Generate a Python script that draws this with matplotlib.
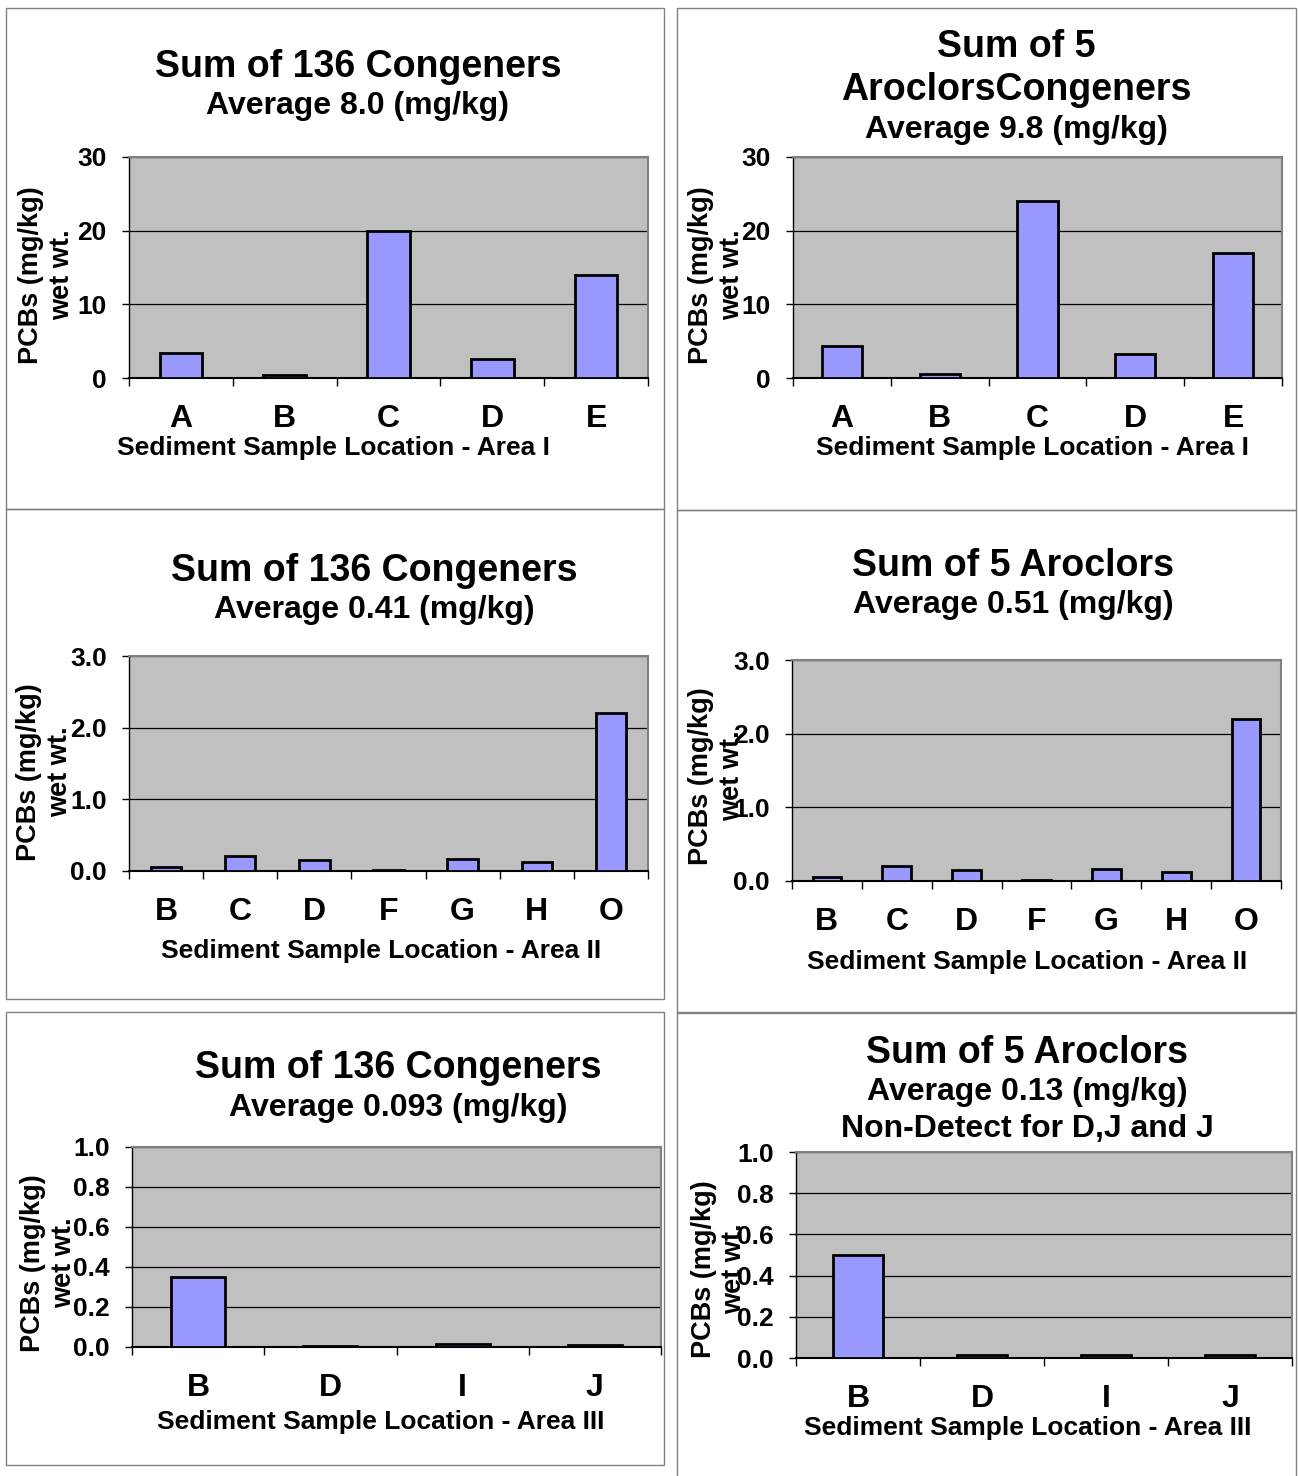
import matplotlib.pyplot as plt
from matplotlib.patches import Rectangle

plt.rcParams['font.family'] = ['Liberation Sans', 'DejaVu Sans']
plt.rcParams['font.weight'] = 'bold'

# data (mg/kg wet wt.)
area1_sites = ['A', 'B', 'C', 'D', 'E']
area1_congeners = [3.4, 0.4, 20, 2.6, 14]
area1_aroclors = [4.3, 0.5, 24, 3.3, 17]

area2_sites = ['B', 'C', 'D', 'F', 'G', 'H', 'O']
area2_congeners = [0.06, 0.21, 0.15, 0.01, 0.17, 0.13, 2.2]
area2_aroclors = [0.06, 0.21, 0.15, 0.01, 0.16, 0.12, 2.2]

area3_sites = ['B', 'D', 'I', 'J']
area3_congeners = [0.35, 0.005, 0.017, 0.012]
area3_aroclors = [0.5, 0.016, 0.016, 0.016]

W, H = 1298, 1476
fig = plt.figure(figsize=(W / 100, H / 100), dpi=100)
fig.patch.set_facecolor('white')


def fx(x):
    return x / W


def fy(y):
    return 1 - y / H


def frame(x0, y0, x1, y1):
    fig.add_artist(Rectangle((fx(x0), fy(y1)), fx(x1) - fx(x0), fy(y0) - fy(y1),
                             transform=fig.transFigure, fill=False,
                             edgecolor='#808080', lw=1))


def panel(box, sites, values, ymax, ystep, fmt, titles, xlabel, xlab_pos, ylab_pos):
    x0, y0, x1, y1 = box
    ax = fig.add_axes([fx(x0), fy(y1), fx(x1) - fx(x0), fy(y0) - fy(y1)])
    ax.set_facecolor('#C0C0C0')
    n = len(sites)
    ax.bar(range(n), values, width=0.41, color='#9999FF', edgecolor='black',
           linewidth=2, zorder=3)
    ax.set_xlim(-0.5, n - 0.5)
    ax.set_ylim(0, ymax)
    ticks = [i * ystep for i in range(int(round(ymax / ystep)) + 1)]
    ax.set_yticks(ticks)
    ax.set_yticklabels([fmt % t for t in ticks], fontsize=19, fontweight='bold')
    ax.yaxis.grid(True, color='black', lw=0.9, zorder=1)
    ax.set_axisbelow(True)
    ax.set_xticks(range(n))
    ax.set_xticklabels(sites, fontsize=23, fontweight='bold')
    ax.set_xticks([i - 0.5 for i in range(n + 1)], minor=True)
    ax.tick_params(axis='x', which='major', length=0, pad=19)
    ax.tick_params(axis='x', which='minor', length=6, width=1, color='black')
    ax.tick_params(axis='y', length=5, width=1, pad=11)
    for s in ['top', 'right']:
        ax.spines[s].set_color('#808080')
        ax.spines[s].set_linewidth(1.5)
    ax.spines['left'].set_linewidth(1)
    ax.spines['bottom'].set_linewidth(1.5)
    for text, ty, size, tx in titles:
        fig.text(fx(tx), fy(ty), text, ha='center', va='center', fontsize=size,
                 fontweight='bold')
    fig.text(fx(xlab_pos[0]), fy(xlab_pos[1]), xlabel, ha='center', va='center',
             fontsize=19, fontweight='bold')
    fig.text(fx(ylab_pos[0]), fy(ylab_pos[1]), 'PCBs (mg/kg)\nwet wt.', rotation=90,
             ha='center', va='center', multialignment='center', fontsize=19.5,
             fontweight='bold', linespacing=1.25)
    return ax


# panel frames
frame(6, 8, 664, 509)
frame(677, 8, 1296, 510)
frame(6, 509, 664, 999)
frame(677, 510, 1296, 1012)
frame(6, 1012, 664, 1465)
frame(677, 1013, 1296, 1480)

panel((129, 157, 648, 378), area1_sites, area1_congeners, 30, 10, '%d',
      [('Sum of 136 Congeners', 67, 27, 358), ('Average 8.0 (mg/kg)', 106, 23, 358)],
      'Sediment Sample Location - Area I', (333, 448), (47, 275))

panel((793, 157, 1282, 378), area1_sites, area1_aroclors, 30, 10, '%d',
      [('Sum of 5', 47, 27, 1016), ('AroclorsCongeners', 90, 27, 1016),
       ('Average 9.8 (mg/kg)', 130, 23, 1016)],
      'Sediment Sample Location - Area I', (1032, 448), (717, 275))

panel((129, 656, 648, 871), area2_sites, area2_congeners, 3.0, 1.0, '%.1f',
      [('Sum of 136 Congeners', 571, 27, 374), ('Average 0.41 (mg/kg)', 610, 23, 374)],
      'Sediment Sample Location - Area II', (381, 951), (45, 772))

panel((792, 660, 1281, 881), area2_sites, area2_aroclors, 3.0, 1.0, '%.1f',
      [('Sum of 5 Aroclors', 566, 27, 1013), ('Average 0.51 (mg/kg)', 605, 23, 1013)],
      'Sediment Sample Location - Area II', (1027, 962), (717, 776))

panel((132, 1147, 661, 1347), area3_sites, area3_congeners, 1.0, 0.2, '%.1f',
      [('Sum of 136 Congeners', 1068, 27, 398), ('Average 0.093 (mg/kg)', 1108, 23, 398)],
      'Sediment Sample Location - Area III', (381, 1422), (49, 1263))

panel((796, 1152, 1292, 1358), area3_sites, area3_aroclors, 1.0, 0.2, '%.1f',
      [('Sum of 5 Aroclors', 1053, 27, 1027), ('Average 0.13 (mg/kg)', 1092, 23, 1027),
       ('Non-Detect for D,J and J', 1129, 23, 1027)],
      'Sediment Sample Location - Area III', (1028, 1428), (719, 1269))

plt.savefig('out.png', dpi=100)
